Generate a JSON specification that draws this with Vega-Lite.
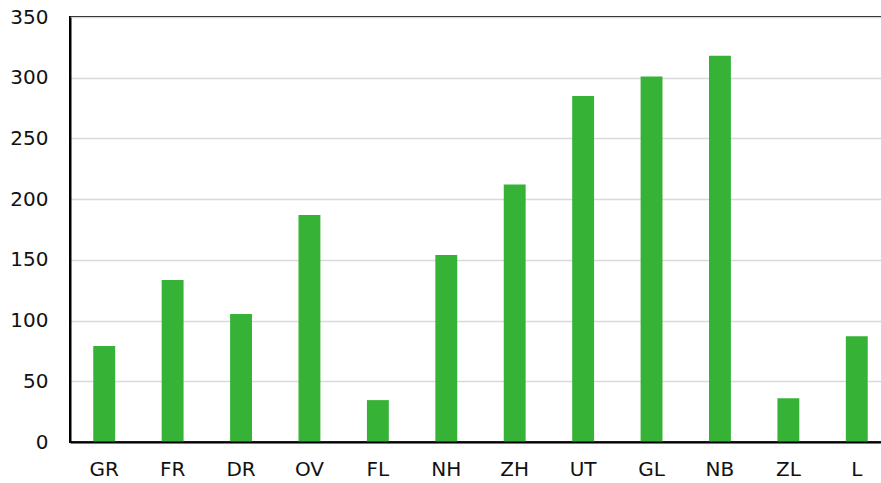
{
  "$schema": "https://vega.github.io/schema/vega-lite/v6.json",
  "autosize": "none",
  "padding": {"left": 70, "top": 17, "right": 0, "bottom": 41},
  "width": 821,
  "height": 425,
  "background": "white",
  "config": {
    "view": {"stroke": "black", "strokeWidth": 2},
    "font": "DejaVu Sans"
  },
  "data": {
    "values": [
      {"regio": "GR", "waarde": 79},
      {"regio": "FR", "waarde": 133.5},
      {"regio": "DR", "waarde": 105.5},
      {"regio": "OV", "waarde": 187},
      {"regio": "FL", "waarde": 34.5},
      {"regio": "NH", "waarde": 154},
      {"regio": "ZH", "waarde": 212},
      {"regio": "UT", "waarde": 285},
      {"regio": "GL", "waarde": 301},
      {"regio": "NB", "waarde": 318},
      {"regio": "ZL", "waarde": 36},
      {"regio": "L", "waarde": 87}
    ]
  },
  "mark": {"type": "bar", "color": "#36b336"},
  "encoding": {
    "x": {
      "field": "regio",
      "type": "nominal",
      "sort": null,
      "scale": {"paddingInner": 0.68, "paddingOuter": 0.34},
      "axis": {
        "title": null,
        "labelAngle": 0,
        "labelFontSize": 20,
        "labelColor": "#111111",
        "labelPadding": 17,
        "ticks": false,
        "domainColor": "black",
        "domainWidth": 2,
        "zindex": 1
      }
    },
    "y": {
      "field": "waarde",
      "type": "quantitative",
      "scale": {"domain": [0, 350], "nice": false},
      "axis": {
        "title": null,
        "values": [0, 50, 100, 150, 200, 250, 300, 350],
        "labelFontSize": 20,
        "labelColor": "#111111",
        "labelPadding": 22,
        "ticks": false,
        "domainColor": "black",
        "domainWidth": 2,
        "gridColor": "#d9d9d9",
        "gridWidth": 1.5,
        "zindex": 0
      }
    }
  }
}
